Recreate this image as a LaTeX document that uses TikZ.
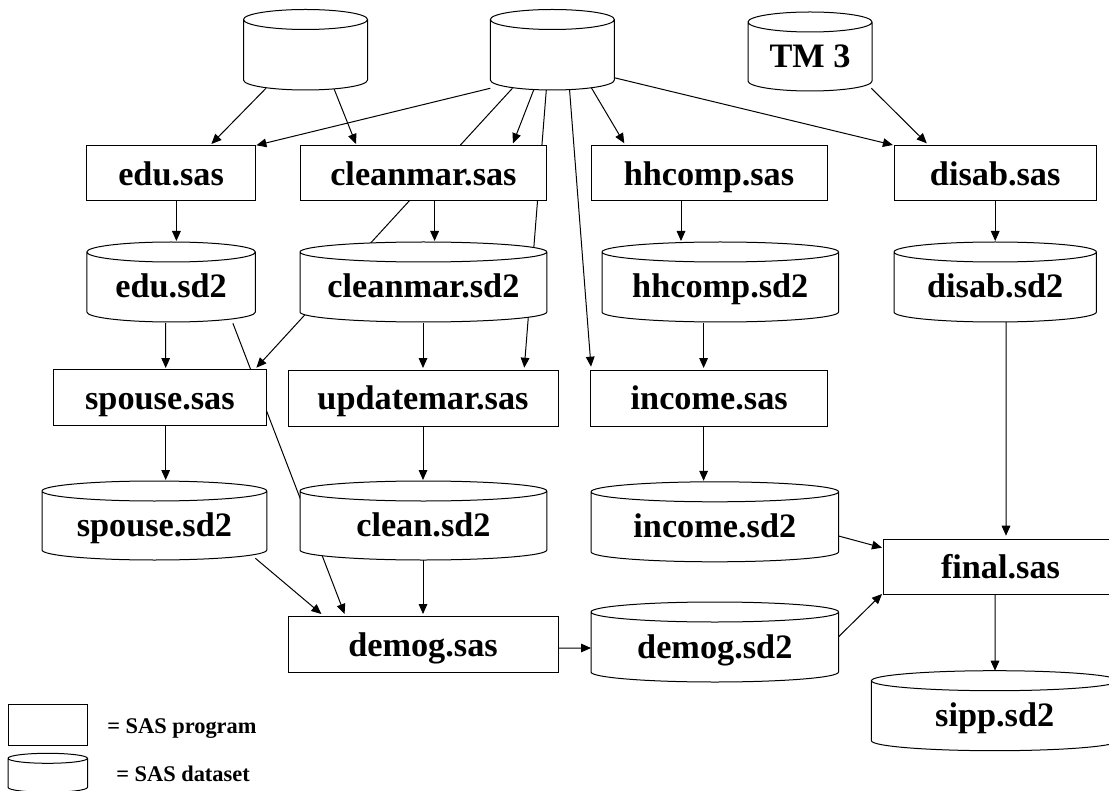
\documentclass[tikz,border=0pt]{standalone}
\usepackage{fontspec}
\setmainfont{Liberation Serif}
\usetikzlibrary{arrows.meta,backgrounds}
\makeatletter
\def\sascap{7.5pt}
\pgfdeclareshape{sascyl}{
  \inheritsavedanchors[from=rectangle]
  \inheritanchorborder[from=rectangle]
  \inheritanchor[from=rectangle]{center}
  \inheritanchor[from=rectangle]{north}
  \inheritanchor[from=rectangle]{south}
  \inheritanchor[from=rectangle]{east}
  \inheritanchor[from=rectangle]{west}
  \inheritanchor[from=rectangle]{base}
  \inheritanchor[from=rectangle]{text}
  \backgroundpath{
    \southwest \pgf@xa=\pgf@x \pgf@ya=\pgf@y
    \northeast \pgf@xb=\pgf@x \pgf@yb=\pgf@y
    \pgf@xc=\pgf@xb \advance\pgf@xc by-\pgf@xa \pgf@xc=.5\pgf@xc
    \edef\sasrx{\the\pgf@xc}
    \edef\sasxa{\the\pgf@xa}
    \edef\sasxb{\the\pgf@xb}
    \pgfmathsetlengthmacro\sastop{\pgf@yb-\sascap}
    \pgfmathsetlengthmacro\sasbot{\pgf@ya+\sascap}
    \edef\saslower{\noexpand\pgfpatharc{180}{360}{\sasrx\space and \sascap}}
    \edef\sasupper{\noexpand\pgfpatharc{0}{180}{\sasrx\space and \sascap}}
    \pgfpathmoveto{\pgfqpoint{\sasxa}{\sastop}}
    \saslower
    \sasupper
    \pgfpathlineto{\pgfqpoint{\sasxa}{\sasbot}}
    \saslower
    \pgfpathlineto{\pgfqpoint{\sasxb}{\sastop}}
  }
}
\makeatother
\tikzset{
  size/.style 2 args={minimum width=#1*0.75pt, minimum height=#2*0.75pt},
  base/.style={draw, fill=white, line width=0.75pt, inner sep=0pt, outer sep=0pt,
    font=\fontsize{25.7}{30}\selectfont\bfseries, text depth=0pt},
  prog/.style={base, rectangle, text height=17.6pt},
  data/.style={base, shape=sascyl, text height=24pt},
  capry/.code={\def\sascap{#1}},
  legendtext/.style={anchor=base west, inner sep=0pt, font=\fontsize{16.8}{20}\selectfont\bfseries},
  conn/.style={line width=0.75pt, -{Triangle[length=7.5pt,width=6.5pt]}},
}
\newcommand\link[6]{\draw[conn] ([shift={(#2,#3)}]#1.center) -- ([shift={(#5,#6)}]#4.center);}
\begin{document}
\begin{tikzpicture}[x=0.75pt,y=-0.75pt]
\useasboundingbox (0,0) rectangle (1109,791);
\clip (0,0) rectangle (1109,791);
% top sources
\node[data,size={124}{80.5}] (c1) at (305.5,49.75) {};
\node[data,size={124}{80.5}] (c2) at (552.35,49.75) {};
\node[data,size={124}{79}] (tm) at (810,51.5) {TM 3};
% row 1
\node[prog,size={168.6}{55}] (edu) at (171.1,173.5) {edu.sas};
\node[prog,size={246.8}{55}] (cm) at (423.4,173.5) {cleanmar.sas};
\node[prog,size={236}{55}] (hh) at (709,173.5) {hhcomp.sas};
\node[prog,size={202.4}{55}] (dis) at (995.2,173.5) {disab.sas};
% row 2
\node[data,size={168.6}{80}] (edusd) at (171.1,282) {edu.sd2};
\node[data,size={246.8}{80}] (cmsd) at (423.4,282) {cleanmar.sd2};
\node[data,size={236.6}{80}] (hhsd) at (720.3,282) {hhcomp.sd2};
\node[data,size={202.4}{80}] (dissd) at (995.2,282) {disab.sd2};
% row 3
\node[prog,size={213.8}{56}] (sp) at (159.9,397.5) {spouse.sas};
\node[prog,size={270}{56}] (up) at (423,398) {updatemar.sas};
\node[prog,size={236.5}{56}] (inc) at (709.2,398) {income.sas};
% row 4
\node[data,size={224.8}{79}] (spsd) at (154.4,520.5) {spouse.sd2};
\node[data,size={246.8}{79}] (clsd) at (423.4,520.5) {clean.sd2};
\node[data,size={247.6}{80}] (incsd) at (714.8,521.8) {income.sd2};
% bottom
\node[prog,size={270}{56}] (dem) at (423,644.7) {demog.sas};
\node[data,size={247.6}{80}] (demsd) at (714.8,642) {demog.sd2};
\node[prog,size={235}{55}] (fin) at (1000.5,566.5) {final.sas};
\node[data,size={246.6}{80}] (sipp) at (994.7,710.7) {sipp.sd2};
% legend
\node[base,rectangle,size={79.5}{41.4}] (lp) at (47.75,725) {};
\node[base,shape=sascyl,capry=3.75pt,size={79.5}{39}] (ld) at (47.75,772.8) {};
\node[legendtext] (lpt) at (107,733) {= SAS program};
\node[legendtext] (ldt) at (116,781.7) {= SAS dataset};
\begin{scope}[on background layer]
\link{c1}{-39.5}{38.5}{edu}{40.3}{-29.5}
\link{c1}{28.5}{39}{cm}{-67.4}{-29.5}
\link{c2}{-62}{38.5}{edu}{85.3}{-28.2}
\link{c2}{-39.9}{38.5}{sp}{96.5}{-29.8}
\link{c2}{-18.4}{39.5}{cm}{89.6}{-30.2}
\link{c2}{-6}{39.5}{up}{101.3}{-30.3}
\link{c2}{17.2}{40}{inc}{-118.2}{-31.3}
\link{c2}{38.7}{37.5}{hh}{-84.7}{-30.2}
\link{c2}{62}{28}{dis}{-102.3}{-28.5}
\link{tm}{61.4}{36.8}{dis}{-68.4}{-30.2}
\link{edu}{5.3}{28}{edusd}{5.3}{-41}
\link{cm}{11.2}{28}{cmsd}{11.2}{-41}
\link{hh}{-28}{28}{hhsd}{-39.3}{-41}
\link{dis}{0}{28}{dissd}{0}{-41}
\link{edusd}{-5.4}{41}{sp}{5.8}{-29.5}
\link{edusd}{61.8}{41.3}{dem}{-78.4}{-30.7}
\link{cmsd}{-0.4}{41}{up}{0}{-30}
\link{hhsd}{-16.7}{41}{inc}{-5.6}{-30}
\link{dissd}{10.8}{40}{fin}{5.5}{-30.8}
\link{sp}{5.8}{28}{spsd}{11.3}{-40.5}
\link{up}{0}{28}{clsd}{-0.4}{-40.5}
\link{inc}{-5.6}{28}{incsd}{-11.2}{-41}
\link{spsd}{101}{37.8}{dem}{-101.6}{-30.7}
\link{clsd}{-0.4}{39.5}{dem}{0}{-30.7}
\link{dem}{135}{3.3}{demsd}{-123.8}{6}
\link{incsd}{123.8}{14.2}{fin}{-118.5}{-18.8}
\link{demsd}{123.8}{-5.3}{fin}{-118.5}{27.5}
\link{fin}{-5.5}{27.5}{sipp}{0.3}{-40}
\end{scope}
\end{tikzpicture}
\end{document}
